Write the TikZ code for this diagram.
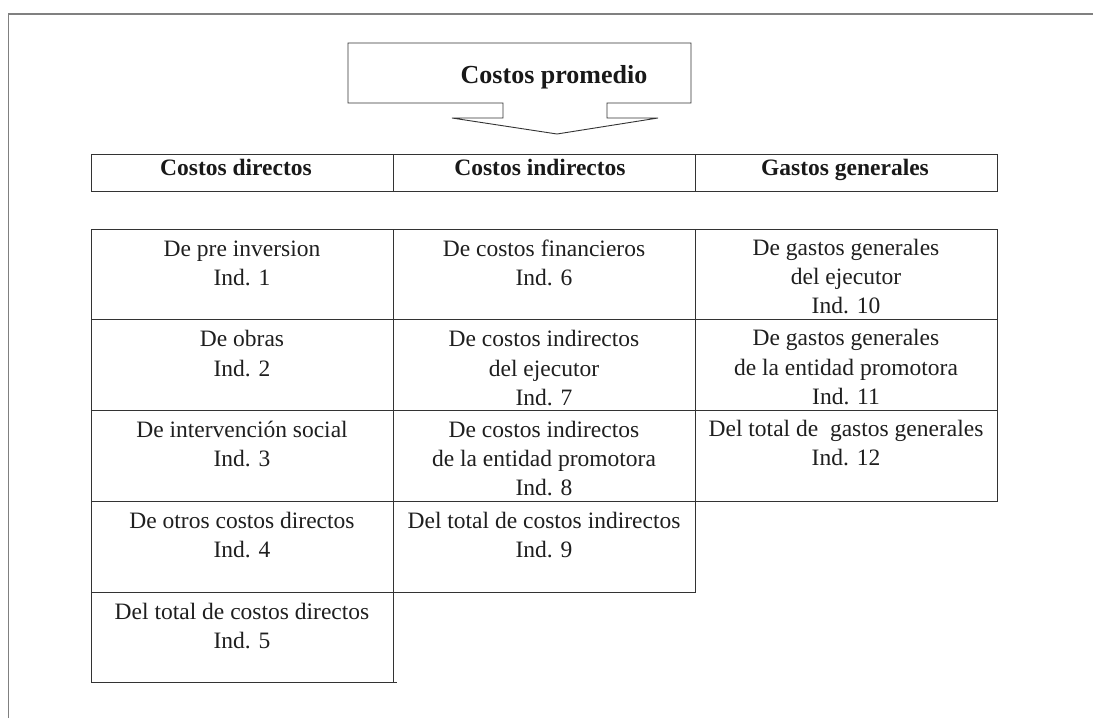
\documentclass[tikz,border=0pt]{standalone}
\usepackage{fontspec}
\setmainfont{Liberation Serif}
\begin{document}
\begin{tikzpicture}[x=1pt,y=-1pt,
  frameline/.style={draw=black!50, line width=1.5pt},
  cellline/.style={draw=black!80, line width=0.9pt},
  celltext/.style={align=center, text=black!88, font=\fontsize{23.5}{29.3}\selectfont, inner sep=0pt, anchor=north},
  headtext/.style={text=black!90, font=\fontsize{23.5}{28}\selectfont\bfseries, inner sep=0pt, anchor=base},
  titletext/.style={text=black!90, font=\fontsize{26}{30}\selectfont\bfseries, inner sep=0pt, anchor=base},
]
\useasboundingbox (0,0) rectangle (1093,718);
\fill[white] (0,0) rectangle (1093,718);

% outer frame (open on right and bottom)
\draw[frameline] (8.5,718) -- (8.5,14) -- (1093,14);

% title callout
\draw[cellline, line join=miter] (348,43) -- (691,43) -- (691,103) -- (607,103) -- (607,118) -- (658,118)
  -- (557,134) -- (452,118) -- (503,118) -- (503,103) -- (348,103) -- cycle;
\node[titletext] (title) at (554,83) {Costos promedio};

% header row
\draw[cellline] (91,154) rectangle (997,191);
\draw[cellline] (393,154) -- (393,191);
\draw[cellline] (695,154) -- (695,191);
\node[headtext] (h1) at (236,175) {Costos directos};
\node[headtext] (h2) at (540,175) {Costos indirectos};
\node[headtext] (h3) at (845,175) {Gastos generales};

% column 1
\draw[cellline] (91,229) -- (393,229) -- (393,682);
\draw[cellline] (91,229) -- (91,682) -- (397,682);
\foreach \y in {319.5,410,501,592} \draw[cellline] (91,\y) -- (393,\y);
% column 2
\draw[cellline] (393,229) -- (695,229) -- (695,592) -- (393,592);
\foreach \y in {319.5,410,501} \draw[cellline] (393,\y) -- (695,\y);
% column 3
\draw[cellline] (695,229) -- (997,229) -- (997,501) -- (695,501);
\foreach \y in {319.5,410} \draw[cellline] (695,\y) -- (997,\y);

% column 1 texts
\node[celltext] (c11) at (242,239) {\rule{0pt}{17pt}De pre inversion\\Ind. 1};
\node[celltext] (c12) at (242,329.5) {\rule{0pt}{17pt}De obras\\Ind. 2};
\node[celltext] (c13) at (242,420) {\rule{0pt}{17pt}De intervención social\\Ind. 3};
\node[celltext] (c14) at (242,511) {\rule{0pt}{17pt}De otros costos directos\\Ind. 4};
\node[celltext] (c15) at (242,602) {\rule{0pt}{17pt}Del total de costos directos\\Ind. 5};

% column 2 texts
\node[celltext] (c21) at (544,239) {\rule{0pt}{17pt}De costos financieros\\Ind. 6};
\node[celltext] (c22) at (544,329.5) {\rule{0pt}{17pt}De costos indirectos\\del ejecutor\\Ind. 7};
\node[celltext] (c23) at (544,420) {\rule{0pt}{17pt}De costos indirectos\\de la entidad promotora\\Ind. 8};
\node[celltext] (c24) at (544,511) {\rule{0pt}{17pt}Del total de costos indirectos\\Ind. 9};

% column 3 texts
\node[celltext] (c31) at (846,238) {\rule{0pt}{17pt}De gastos generales\\del ejecutor\\Ind. 10};
\node[celltext] (c32) at (846,328.5) {\rule{0pt}{17pt}De gastos generales\\de la entidad promotora\\Ind. 11};
\node[celltext] (c33) at (846,419) {\rule{0pt}{17pt}Del total de\ \ gastos generales\\Ind. 12};
\end{tikzpicture}
\end{document}
